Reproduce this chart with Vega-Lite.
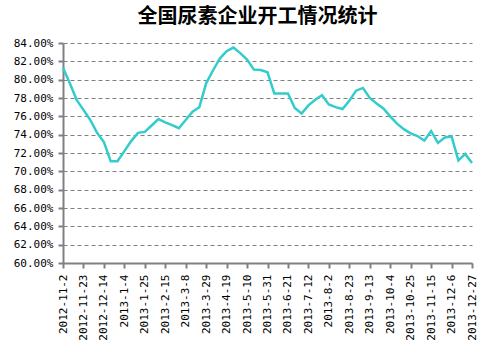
{
  "$schema": "https://vega.github.io/schema/vega-lite/v6.json",
  "width": 409,
  "height": 220,
  "autosize": "none",
  "padding": {"left": 63, "top": 43, "right": 31, "bottom": 88},
  "background": "white",
  "title": {
    "text": "全国尿素企业开工情况统计",
    "font": "Noto Sans CJK SC",
    "fontSize": 20,
    "fontWeight": "bold",
    "color": "black",
    "anchor": "middle",
    "dx": -10,
    "offset": 10
  },
  "config": {"view": {"stroke": null}},
  "data": {
    "values": [
      {"date": "2012-11-2", "rate": 81.3},
      {"date": "2012-11-9", "rate": 79.6},
      {"date": "2012-11-16", "rate": 77.8},
      {"date": "2012-11-23", "rate": 76.7},
      {"date": "2012-11-30", "rate": 75.6},
      {"date": "2012-12-7", "rate": 74.2},
      {"date": "2012-12-14", "rate": 73.2},
      {"date": "2012-12-21", "rate": 71.1},
      {"date": "2012-12-28", "rate": 71.1},
      {"date": "2013-1-4", "rate": 72.2},
      {"date": "2013-1-11", "rate": 73.3},
      {"date": "2013-1-18", "rate": 74.2},
      {"date": "2013-1-25", "rate": 74.3},
      {"date": "2013-2-1", "rate": 75.0},
      {"date": "2013-2-8", "rate": 75.7},
      {"date": "2013-2-15", "rate": 75.35},
      {"date": "2013-2-22", "rate": 75.05},
      {"date": "2013-3-1", "rate": 74.7},
      {"date": "2013-3-8", "rate": 75.6},
      {"date": "2013-3-15", "rate": 76.5},
      {"date": "2013-3-22", "rate": 77.0},
      {"date": "2013-3-29", "rate": 79.6},
      {"date": "2013-4-5", "rate": 81.0},
      {"date": "2013-4-12", "rate": 82.3},
      {"date": "2013-4-19", "rate": 83.1},
      {"date": "2013-4-26", "rate": 83.5},
      {"date": "2013-5-3", "rate": 82.9},
      {"date": "2013-5-10", "rate": 82.2},
      {"date": "2013-5-17", "rate": 81.1},
      {"date": "2013-5-24", "rate": 81.05},
      {"date": "2013-5-31", "rate": 80.8},
      {"date": "2013-6-7", "rate": 78.5},
      {"date": "2013-6-14", "rate": 78.5},
      {"date": "2013-6-21", "rate": 78.5},
      {"date": "2013-6-28", "rate": 76.9},
      {"date": "2013-7-5", "rate": 76.3},
      {"date": "2013-7-12", "rate": 77.2},
      {"date": "2013-7-19", "rate": 77.8},
      {"date": "2013-7-26", "rate": 78.3},
      {"date": "2013-8-2", "rate": 77.3},
      {"date": "2013-8-9", "rate": 77.0},
      {"date": "2013-8-16", "rate": 76.8},
      {"date": "2013-8-23", "rate": 77.7},
      {"date": "2013-8-30", "rate": 78.8},
      {"date": "2013-9-6", "rate": 79.1},
      {"date": "2013-9-13", "rate": 78.0},
      {"date": "2013-9-20", "rate": 77.4},
      {"date": "2013-9-27", "rate": 76.85},
      {"date": "2013-10-4", "rate": 76.0},
      {"date": "2013-10-11", "rate": 75.2},
      {"date": "2013-10-18", "rate": 74.6},
      {"date": "2013-10-25", "rate": 74.15},
      {"date": "2013-11-1", "rate": 73.85},
      {"date": "2013-11-8", "rate": 73.35},
      {"date": "2013-11-15", "rate": 74.4},
      {"date": "2013-11-22", "rate": 73.1},
      {"date": "2013-11-29", "rate": 73.7},
      {"date": "2013-12-6", "rate": 73.8},
      {"date": "2013-12-13", "rate": 71.2},
      {"date": "2013-12-20", "rate": 71.9},
      {"date": "2013-12-27", "rate": 70.9}
    ]
  },
  "mark": {"type": "line", "color": "#33CCCC", "strokeWidth": 2.5},
  "encoding": {
    "x": {
      "field": "date",
      "type": "ordinal",
      "sort": null,
      "scale": {"type": "point", "padding": 0},
      "axis": {
        "title": null,
        "values": ["2012-11-2", "2012-11-23", "2012-12-14", "2013-1-4", "2013-1-25", "2013-2-15", "2013-3-8", "2013-3-29", "2013-4-19", "2013-5-10", "2013-5-31", "2013-6-21", "2013-7-12", "2013-8-2", "2013-8-23", "2013-9-13", "2013-10-4", "2013-10-25", "2013-11-15", "2013-12-6", "2013-12-27"],
        "labelAngle": -90,
        "labelFont": "DejaVu Sans Mono",
        "labelFontSize": 11,
        "labelColor": "black",
        "labelPadding": 6,
        "labelOverlap": false,
        "labelBound": false,
        "domainColor": "#808080",
        "domainWidth": 2,
        "tickColor": "#808080",
        "tickWidth": 2,
        "tickSize": 5,
        "grid": false
      }
    },
    "y": {
      "field": "rate",
      "type": "quantitative",
      "scale": {"domain": [60, 84], "nice": false, "zero": false},
      "axis": {
        "title": null,
        "values": [60, 62, 64, 66, 68, 70, 72, 74, 76, 78, 80, 82, 84],
        "labelExpr": "format(datum.value, '.2f') + '%'",
        "labelFont": "DejaVu Sans Mono",
        "labelFontSize": 11,
        "labelColor": "black",
        "labelPadding": 5,
        "domainColor": "#808080",
        "domainWidth": 2,
        "tickColor": "#808080",
        "tickWidth": 2,
        "tickSize": 5,
        "grid": true,
        "gridColor": "#808080",
        "gridDash": [4, 3],
        "gridWidth": 1
      }
    }
  }
}
